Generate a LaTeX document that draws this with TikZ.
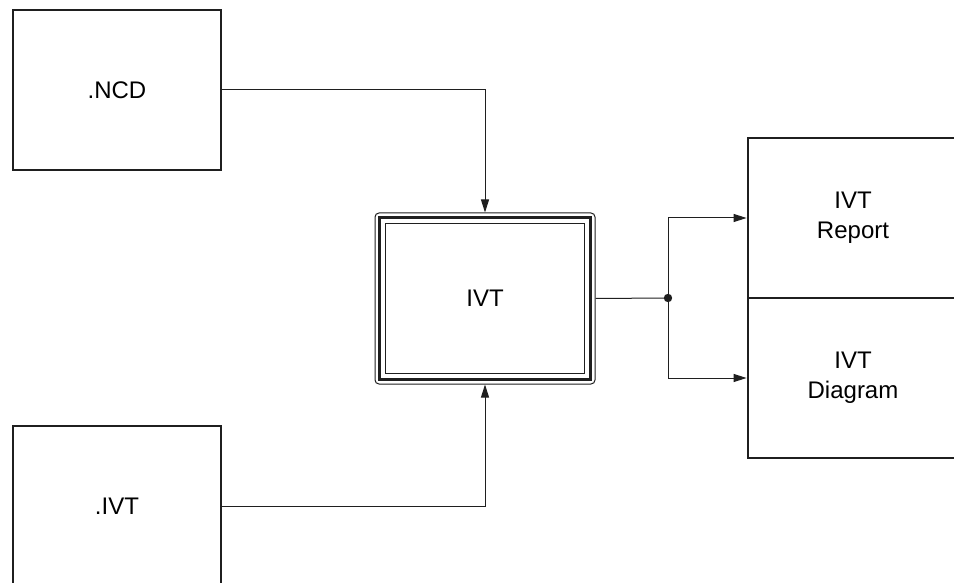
\documentclass[tikz,border=0pt]{standalone}
\usepackage{fontspec}
\setmainfont{Liberation Sans}
\usetikzlibrary{arrows.meta}
\begin{document}
\begin{tikzpicture}[x=1pt,y=1pt,
  ink/.style={draw=black!88},
  filebox/.style={ink, line width=2.8pt, minimum width=208pt, minimum height=160pt,
    inner sep=0pt, align=center, font=\fontsize{24}{30}\selectfont},
  corebox/.style={ink, line width=1pt, rounded corners=4pt, minimum width=220pt,
    minimum height=171pt, inner sep=0pt, font=\fontsize{24}{30}\selectfont},
  flow/.style={ink, line width=1pt, -{Triangle[length=13pt,width=8pt]}},
  wire/.style={ink, line width=1pt}]
  \useasboundingbox (0,0) rectangle (954,582);
  \clip (0,0) rectangle (954,582);

  % source files
  \node[filebox] (ncd) at (117,492) {.NCD};
  \node[filebox] (ivtin) at (117,76) {.IVT};

  % the tool, with its triple frame
  \node[corebox] (core) at (485,283.5) {IVT};
  \draw[ink, line width=2.8pt] ([shift={(5,-5)}]core.north west) rectangle ([shift={(-5,5)}]core.south east);
  \draw[ink, line width=1.4pt] ([shift={(11,-11)}]core.north west) rectangle ([shift={(-11,11)}]core.south east);

  % outputs
  \node[filebox, minimum width=210pt] (report) at (853,364) {IVT\\Report};
  \node[filebox, minimum width=210pt] (diagram) at (853,204) {IVT\\Diagram};

  % inputs into the tool
  \draw[flow] (ncd.east) -| (core.north);
  \draw[flow] (ivtin.east) -| (core.south);

  % output branch
  \coordinate (split) at (668,284);
  \draw[wire] (core.east) -- (split);
  \fill[black!88] (split) circle (4.2pt);
  \draw[flow] (split) |- (report.west |- 0,364);
  \draw[flow] (split) |- (diagram.west |- 0,204);
\end{tikzpicture}
\end{document}
